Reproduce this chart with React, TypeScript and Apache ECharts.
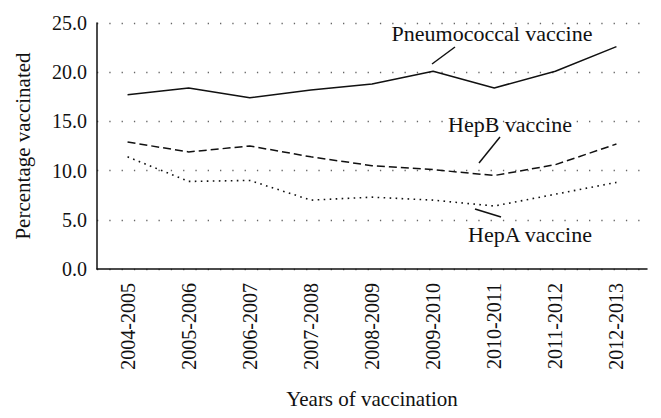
import React, { useEffect, useRef } from "react";
import * as echarts from "echarts";

const categories = [
  "2004-2005", "2005-2006", "2006-2007", "2007-2008", "2008-2009",
  "2009-2010", "2010-2011", "2011-2012", "2012-2013",
];
const pneumococcal = [17.7, 18.4, 17.4, 18.2, 18.8, 20.1, 18.4, 20.1, 22.6];
const hepB = [12.9, 11.9, 12.5, 11.4, 10.5, 10.1, 9.5, 10.6, 12.7];
const hepA = [11.4, 8.9, 9.0, 7.0, 7.3, 7.0, 6.4, 7.6, 8.8];
const yTicks = [0, 5, 10, 15, 20, 25];

const FONT = "'Liberation Serif', 'DejaVu Serif', serif";

export default function App() {
  const ref = useRef<HTMLDivElement>(null);
  useEffect(() => {
    if (!ref.current) return;
    const chart = echarts.init(ref.current, null, { renderer: "svg" });
    const lineStyleBase = { color: "#111", width: 1.5 };
    const annot = (text: string, x: number, y: number) => ({
      type: "text",
      x,
      y,
      style: {
        text,
        fontSize: 22,
        fontFamily: FONT,
        fill: "#111",
        align: "center",
        verticalAlign: "middle",
      },
    });
    chart.setOption({
      animation: false,
      backgroundColor: "#fff",
      textStyle: { fontFamily: FONT },
      grid: {
        left: 97,
        top: 23,
        right: 14,
        bottom: 149,
        containLabel: false,
        outerBoundsMode: "none",
      },
      xAxis: {
        type: "category",
        data: categories,
        boundaryGap: true,
        axisLine: { lineStyle: { color: "#111", width: 1.5 } },
        axisTick: { show: false },
        axisLabel: {
          rotate: 90,
          fontSize: 20,
          color: "#111",
          fontFamily: FONT,
          margin: 14,
          interval: 0,
        },
        name: "Years of vaccination",
        nameLocation: "middle",
        nameGap: 119,
        nameTextStyle: { fontSize: 21, color: "#111", fontFamily: FONT },
      },
      yAxis: {
        type: "value",
        min: yTicks[0],
        max: yTicks[yTicks.length - 1],
        interval: 5,
        axisLine: { show: true, lineStyle: { color: "#111", width: 1.5 } },
        axisTick: { show: false },
        axisLabel: {
          fontSize: 20,
          color: "#111",
          fontFamily: FONT,
          margin: 10,
          formatter: (v: number) => v.toFixed(1),
        },
        splitLine: {
          show: true,
          lineStyle: { color: "#666", width: 1.3, type: [1.3, 11] },
        },
        name: "Percentage vaccinated",
        nameLocation: "middle",
        nameGap: 64,
        nameTextStyle: { fontSize: 21, color: "#111", fontFamily: FONT },
      },
      series: [
        {
          name: "Pneumococcal vaccine",
          type: "line",
          data: pneumococcal,
          symbol: "none",
          lineStyle: { ...lineStyleBase, type: "solid" },
        },
        {
          name: "HepB vaccine",
          type: "line",
          data: hepB,
          symbol: "none",
          lineStyle: { ...lineStyleBase, type: [8, 4] },
        },
        {
          name: "HepA vaccine",
          type: "line",
          data: hepA,
          symbol: "none",
          lineStyle: { ...lineStyleBase, width: 1.6, type: [1.6, 4.4] },
        },
      ],
      graphic: [
        annot("Pneumococcal vaccine", 492, 33),
        {
          type: "line",
          shape: { x1: 455, y1: 47, x2: 432, y2: 64 },
          style: { stroke: "#111", lineWidth: 1.5 },
        },
        annot("HepB vaccine", 510, 124),
        {
          type: "line",
          shape: { x1: 500, y1: 137, x2: 479, y2: 163 },
          style: { stroke: "#111", lineWidth: 1.5 },
        },
        annot("HepA vaccine", 530, 234),
        {
          type: "line",
          shape: { x1: 475, y1: 209, x2: 501, y2: 217 },
          style: { stroke: "#111", lineWidth: 1.5 },
        },
      ],
    });
    return () => chart.dispose();
  }, []);
  return (
    <div
      ref={ref}
      style={{ position: "fixed", left: 0, top: 0, width: 661, height: 418 }}
    />
  );
}
